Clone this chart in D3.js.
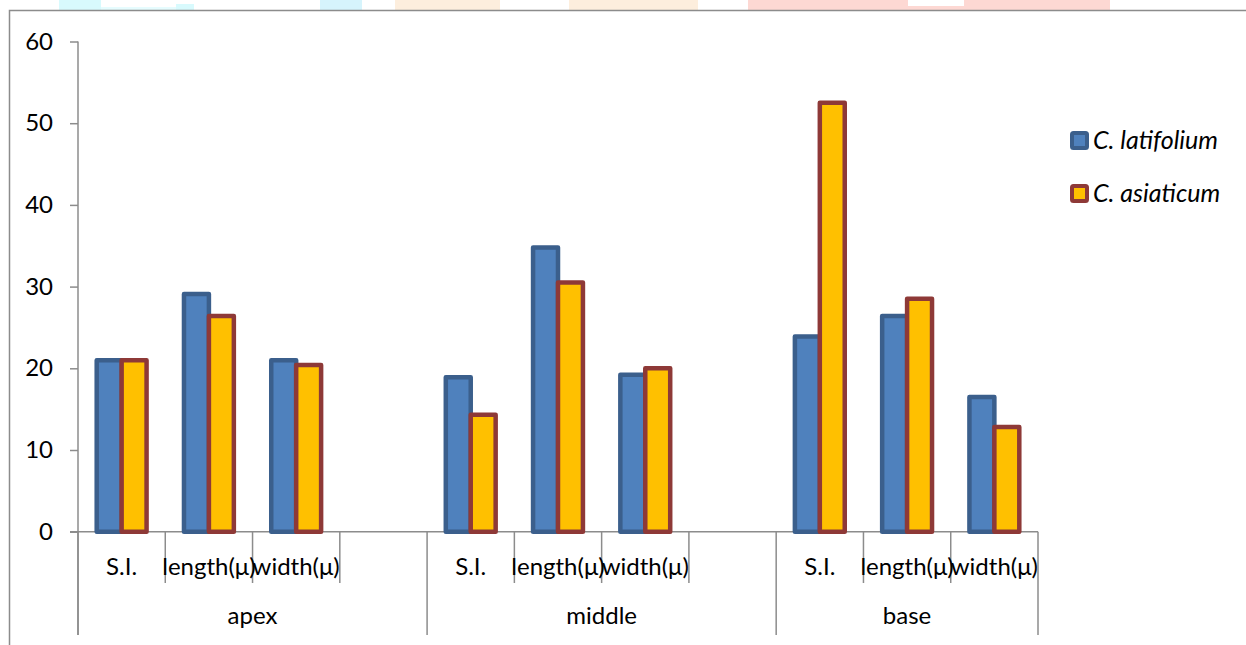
<!DOCTYPE html>
<html>
<head>
<meta charset="utf-8">
<script src="https://cdn.jsdelivr.net/npm/d3@7/dist/d3.min.js"></script>
<style>
  html, body { margin: 0; padding: 0; background: #fff; }
  svg { display: block; font-family: Lato, "Open Sans", sans-serif; }
</style>
</head>
<body>
<svg id="chart" width="1246" height="645"></svg>
<script>
// Category slots: [group, measure]; empty measure = spacer slot between groups
const groups = ["apex", "middle", "base"];
const categories = [
  ["apex", "S.I."], ["apex", "length(μ)"], ["apex", "width(μ)"], ["apex", ""],
  ["middle", "S.I."], ["middle", "length(μ)"], ["middle", "width(μ)"], ["middle", ""],
  ["base", "S.I."], ["base", "length(μ)"], ["base", "width(μ)"]
];
const seriesNames = ["C. latifolium", "C. asiaticum"];
const latifolium = [21.0, 29.1, 21.0, null, 18.9, 34.8, 19.2, null, 23.9, 26.4, 16.5];
const asiaticum  = [21.0, 26.4, 20.4, null, 14.3, 30.5, 20.0, null, 52.5, 28.5, 12.8];
const yTicks = [0, 10, 20, 30, 40, 50, 60];

const fills   = ["#4f81bd", "#ffc000"];
const strokes = ["#3b5f8c", "#8e3937"];
const axisGray = "#8c8c8c";
const fontSize = "24px";

const svg = d3.select("#chart");

// faint coloured strip along the top edge of the page
const strip = [
  [59, 101, 0, "#d8fafd"], [101, 194, 7, "#e6fcfe"], [176, 194, 4, "#d8fafd"],
  [320, 362, 0, "#d6f4fc"], [395, 500, 0, "#fdeedd"], [569, 698, 0, "#fdeedd"],
  [748, 908, 0, "#fdd8d3"], [964, 1110, 0, "#fdd8d3"], [908, 964, 6, "#fdd8d3"]
];
svg.append("g").selectAll("rect").data(strip).join("rect")
  .attr("x", d => d[0]).attr("width", d => d[1] - d[0])
  .attr("y", d => d[2]).attr("height", d => 10 - d[2])
  .attr("fill", d => d[3]);

// chart frame
svg.append("rect")
  .attr("x", 9.5).attr("y", 10.5).attr("width", 1300).attr("height", 700)
  .attr("fill", "none").attr("stroke", axisGray).attr("stroke-width", 1.5);

const left = 78, right = 1038, yZero = 531.7, yTop = 41.5, axisBottom = 635, minorBottom = 583;

const x = d3.scaleBand().domain(d3.range(categories.length)).range([left, right]).padding(0);
const xs = d3.scaleBand().domain([0, 1]).range([0, x.bandwidth()])
  .paddingInner(0).paddingOuter(0.75);
const y = d3.scaleLinear().domain([0, 60]).range([yZero, yTop]);

// y axis
const yAxis = svg.append("g")
  .attr("transform", `translate(${left},0)`)
  .call(d3.axisLeft(y).tickValues(yTicks).tickSize(8).tickPadding(17));
yAxis.select(".domain").remove();
yAxis.selectAll(".tick line").attr("stroke", axisGray).attr("stroke-width", 1.5);
yAxis.selectAll(".tick text")
  .attr("fill", "#000").style("font-size", fontSize).style("font-family", "Lato, sans-serif");
svg.append("line")
  .attr("x1", left).attr("x2", left).attr("y1", y(60)).attr("y2", axisBottom)
  .attr("stroke", axisGray).attr("stroke-width", 1.5);

// category axis line
svg.append("line")
  .attr("x1", left - 8).attr("x2", right).attr("y1", yZero).attr("y2", yZero)
  .attr("stroke", axisGray).attr("stroke-width", 1.5);

// slot boundary ticks: long at group boundaries, short inside a group
const boundaries = d3.range(categories.length + 1);
svg.append("g").selectAll("line").data(boundaries).join("line")
  .attr("x1", i => i < categories.length ? x(i) : right)
  .attr("x2", i => i < categories.length ? x(i) : right)
  .attr("y1", yZero)
  .attr("y2", i => {
    const isEdge = i === 0 || i === categories.length ||
      categories[i][0] !== categories[i - 1][0];
    return isEdge ? axisBottom : minorBottom;
  })
  .attr("stroke", axisGray).attr("stroke-width", 1.5);

// measure labels
svg.append("g").selectAll("text").data(categories).join("text")
  .attr("x", (d, i) => x(i) + x.bandwidth() / 2)
  .attr("y", 575)
  .attr("text-anchor", "middle")
  .style("font-size", fontSize)
  .text(d => d[1]);

// group labels
svg.append("g").selectAll("text").data(groups).join("text")
  .attr("x", g => {
    const idx = categories.map((c, i) => c[0] === g ? i : -1).filter(i => i >= 0);
    const x0 = x(idx[0]);
    const x1 = x(idx[idx.length - 1]) + x.bandwidth();
    return (x0 + x1) / 2;
  })
  .attr("y", 624)
  .attr("text-anchor", "middle")
  .style("font-size", fontSize)
  .text(g => g);

// bars
[latifolium, asiaticum].forEach((vals, s) => {
  svg.append("g").selectAll("rect")
    .data(vals.map((v, i) => ({ v, i })).filter(d => d.v !== null))
    .join("rect")
    .attr("x", d => x(d.i) + xs(s))
    .attr("width", xs.bandwidth())
    .attr("y", d => y(d.v))
    .attr("height", d => y(0) - y(d.v))
    .attr("fill", fills[s])
    .attr("stroke", strokes[s])
    .attr("stroke-width", 4.5)
    .attr("stroke-linejoin", "round");
});

// legend
const legend = svg.append("g").attr("transform", "translate(1070,131)");
seriesNames.forEach((name, s) => {
  const g = legend.append("g").attr("transform", `translate(0,${s * 53})`);
  g.append("rect").attr("x", 2).attr("y", 2).attr("width", 15).attr("height", 15)
    .attr("fill", fills[s]).attr("stroke", strokes[s]).attr("stroke-width", 4)
    .attr("rx", 1.5);
  g.append("text").attr("x", 23).attr("y", 18)
    .style("font-size", "25px").style("font-style", "italic")
    .text(name);
});
</script>
</body>
</html>
